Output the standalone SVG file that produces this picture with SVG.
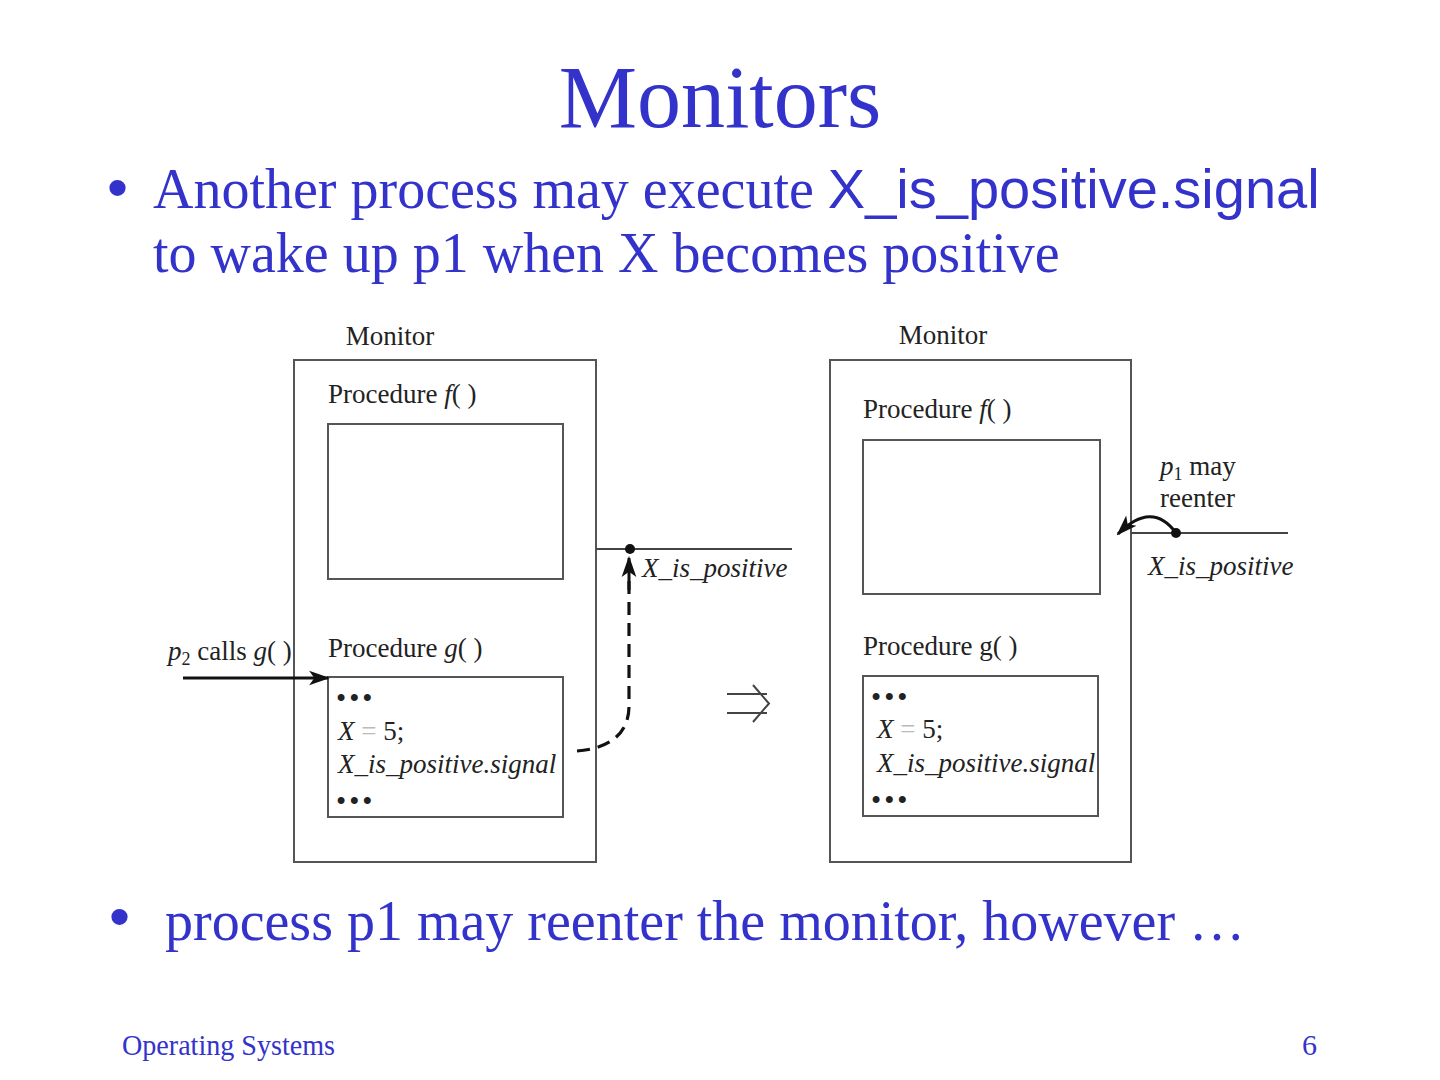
<svg xmlns="http://www.w3.org/2000/svg" width="1440" height="1080" viewBox="0 0 1440 1080">
<style>
.slide{font-family:"Liberation Serif","Times New Roman",serif;fill:#3333cc}
.sans{font-family:"Liberation Sans",Arial,sans-serif;fill:#3333cc}
.dg{font-family:"Liberation Serif","Times New Roman",serif;font-size:27px;fill:#222}
.it{font-style:italic}
.box{fill:none;stroke:#555;stroke-width:2}
.ln{fill:none;stroke:#444;stroke-width:2}
.dot{letter-spacing:3px;font-size:29px}
</style>
<defs>
<marker id="ah" viewBox="0 0 10 10" refX="9" refY="5" markerWidth="7" markerHeight="7" orient="auto" markerUnits="strokeWidth">
<path d="M0,1.5 L10,5 L0,8.5 L2.5,5 z" fill="#111"/>
</marker>
</defs>
<rect width="1440" height="1080" fill="#fff"/>
<text class="slide" x="720" y="127" font-size="88" text-anchor="middle">Monitors</text>
<text class="sans" x="107" y="208" font-size="60">•</text>
<text class="slide" x="153" y="208" font-size="56">Another process may execute <tspan class="sans">X_is_positive.signal</tspan></text>
<text class="slide" x="153" y="272" font-size="56">to wake up p1 when X becomes positive</text>
<text class="sans" x="109" y="937" font-size="60">•</text>
<text class="slide" x="165" y="940" font-size="56">process p1 may reenter the monitor, however …</text>
<text class="slide" x="122" y="1055" font-size="30" textLength="213" lengthAdjust="spacingAndGlyphs">Operating Systems</text>
<text class="slide" x="1317" y="1055" font-size="30" text-anchor="end">6</text>

<g id="left-monitor">
<text class="dg" x="390" y="345" text-anchor="middle">Monitor</text>
<rect class="box" x="294" y="360" width="302" height="502"/>
</g>
<g id="left-proc-f">
<text class="dg" x="328" y="403">Procedure <tspan class="it">f</tspan>( )</text>
<rect class="box" x="328" y="424" width="235" height="155"/>
</g>
<g id="left-proc-g">
<text class="dg" x="328" y="657">Procedure <tspan class="it">g</tspan>( )</text>
<rect class="box" x="328" y="677" width="235" height="140"/>
<text class="dg dot" x="336" y="708">•••</text>
<text class="dg" x="338" y="740"><tspan class="it">X</tspan> <tspan fill="#bbb">=</tspan> 5;</text>
<text class="dg it" x="338" y="773">X_is_positive.signal</text>
<text class="dg dot" x="336" y="811">•••</text>
</g>
<g id="left-p2">
<text class="dg" x="168" y="660"><tspan class="it">p</tspan><tspan font-size="18" dy="5">2</tspan><tspan dy="-5"> calls </tspan><tspan class="it">g</tspan>( )</text>
</g>
<g id="left-cond">
<text class="dg it" x="642" y="577">X_is_positive</text>
</g>
<g id="implies">
<path class="ln" d="M727,694 H767 M727,713 H767 M753,685 L769,703.5 L753,722" stroke="#222" stroke-width="1.8"/>
</g>
<g id="right-monitor">
<text class="dg" x="943" y="344" text-anchor="middle">Monitor</text>
<rect class="box" x="830" y="360" width="301" height="502"/>
</g>
<g id="right-proc-f">
<text class="dg" x="863" y="418">Procedure <tspan class="it">f</tspan>( )</text>
<rect class="box" x="863" y="440" width="237" height="154"/>
</g>
<g id="right-proc-g">
<text class="dg" x="863" y="655">Procedure g( )</text>
<rect class="box" x="863" y="676" width="235" height="140"/>
<text class="dg dot" x="871" y="707">•••</text>
<text class="dg" x="877" y="738"><tspan class="it">X</tspan> <tspan fill="#bbb">=</tspan> 5;</text>
<text class="dg it" x="877" y="772">X_is_positive.signal</text>
<text class="dg dot" x="871" y="810">•••</text>
</g>
<g id="right-p1">
<text class="dg" x="1160" y="475"><tspan class="it">p</tspan><tspan font-size="18" dy="5">1</tspan><tspan dy="-5"> may</tspan></text>
<text class="dg" x="1160" y="507">reenter</text>
<text class="dg it" x="1148" y="575">X_is_positive</text>
</g>
<g id="connectors">
<path class="ln" d="M596,549 H792"/>
<circle cx="630" cy="549" r="5" fill="#111"/>
<path d="M577,751 C606,749 629,736 629,706 L629,575" fill="none" stroke="#111" stroke-width="3.2" stroke-dasharray="13 8"/>
<path d="M629,590 L629,558" fill="none" stroke="#111" stroke-width="3" marker-end="url(#ah)"/>
<path d="M183,678 L328,678" fill="none" stroke="#111" stroke-width="3" marker-end="url(#ah)"/>
<path class="ln" d="M1131,533 H1288"/>
<circle cx="1176" cy="533" r="5" fill="#111"/>
<path d="M1176,533 Q1152,500 1118,534" fill="none" stroke="#111" stroke-width="3" marker-end="url(#ah)"/>
</g>
</svg>
